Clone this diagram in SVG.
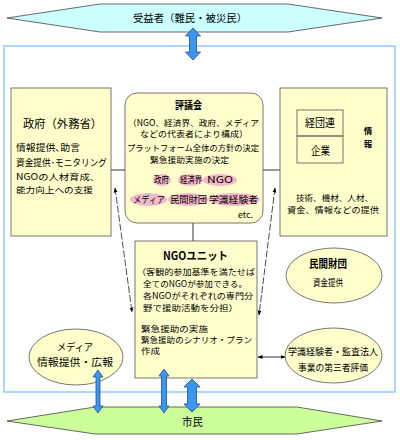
<svg xmlns="http://www.w3.org/2000/svg" width="400" height="440" viewBox="0 0 400 440">
<style>
text{font-family:"Noto Sans CJK JP","Noto Sans",sans-serif;fill:#000;font-size:9.5px}
.s{font-size:8.5px}
.c{text-anchor:middle}
.h{font-weight:bold;font-size:11px}
.box{fill:#ffffcc;stroke:#555;stroke-width:0.8}
.hex{stroke:#444;stroke-width:0.8}
.pk{fill:#f5b8c8}
.ln{fill:none;stroke:#000;stroke-width:0.8}
.dash{fill:none;stroke:#000;stroke-width:0.7;stroke-dasharray:7 2}
.ba{fill:#3a96f0;stroke:#1f4f8f;stroke-width:0.8}
</style>
<defs>
<marker id="ah" viewBox="0 0 10 10" refX="9" refY="5" markerWidth="5" markerHeight="5" orient="auto-start-reverse" markerUnits="userSpaceOnUse">
<path d="M0,1 L10,5 L0,9 Z" fill="#000"/>
</marker>
</defs>
<rect id="frame" x="4" y="46" width="391" height="346" fill="#fff" stroke="#99ccff" stroke-width="1.6"/>
<g id="beneficiary">
<polygon class="hex" points="7,18 100,4 288,4 382,18 288,32 100,32" fill="#ccffff"/>
<text x="190" y="22" textLength="114" lengthAdjust="spacingAndGlyphs" class="c" style="font-size:10px">受益者（難民・被災民）</text>
</g>
<g id="citizens">
<polygon class="hex" points="7,421 95,407 297,407 382,421 297,434 95,434" fill="#ccff99"/>
<text x="192.5" y="426" textLength="21" lengthAdjust="spacingAndGlyphs" class="c" style="font-size:11px">市民</text>
</g>
<g id="connectors">
<line class="ln" x1="111" y1="170" x2="125" y2="170"/>
<line class="ln" x1="263" y1="170" x2="280" y2="170"/>
<line class="ln" x1="193" y1="223" x2="193" y2="241"/>
<line class="dash" x1="115" y1="188" x2="132" y2="312" marker-start="url(#ah)" marker-end="url(#ah)"/>
<line class="dash" x1="275" y1="188" x2="259" y2="315" marker-start="url(#ah)" marker-end="url(#ah)"/>
<line class="ln" x1="258" y1="357" x2="285" y2="357" marker-start="url(#ah)" marker-end="url(#ah)"/>
<path class="ln" d="M343,122 H360 V149 H345" marker-end="url(#ah)"/>
</g>
<g id="gov">
<rect class="box" x="11" y="88" width="100" height="148"/>
<text x="23" y="127.5" textLength="79" lengthAdjust="spacingAndGlyphs" style="font-size:11.5px">政府（外務省）</text>
<text x="16" y="150.6" textLength="64" lengthAdjust="spacingAndGlyphs">情報提供､助言</text>
<text x="16" y="165.6" textLength="91" lengthAdjust="spacingAndGlyphs">資金提供･モニタリング</text>
<text x="16" y="180.3" textLength="84" lengthAdjust="spacingAndGlyphs" class="s">NGOの人材育成、</text>
<text x="16" y="193.3" textLength="77" lengthAdjust="spacingAndGlyphs" class="s">能力向上への支援</text>
</g>
<g id="council">
<rect class="box" x="125" y="93" width="138" height="130" rx="12" ry="12"/>
<text x="188.5" y="109" textLength="27" lengthAdjust="spacingAndGlyphs" class="c h" style="font-size:10.5px">評議会</text>
<text x="128" y="126.3" textLength="131" lengthAdjust="spacingAndGlyphs" class="s">（NGO、経済界、政府、メディア</text>
<text x="140" y="137.3" textLength="108" lengthAdjust="spacingAndGlyphs" class="s">などの代表者により構成）</text>
<text x="127" y="151.3" textLength="132" lengthAdjust="spacingAndGlyphs" class="s">プラットフォーム全体の方針の決定</text>
<text x="150" y="163.3" textLength="79" lengthAdjust="spacingAndGlyphs" class="s">緊急援助実施の決定</text>
<ellipse class="pk" cx="162" cy="180" rx="9" ry="6"/>
<ellipse class="pk" cx="190.5" cy="180" rx="12.5" ry="6"/>
<ellipse class="pk" cx="220" cy="180" rx="17" ry="6"/>
<ellipse class="pk" cx="148.5" cy="199.5" rx="18.5" ry="6.5"/>
<ellipse class="pk" cx="188" cy="199.5" rx="20" ry="6.5"/>
<ellipse class="pk" cx="234" cy="199.5" rx="26" ry="6.5"/>
<text x="154" y="182.6" textLength="15" lengthAdjust="spacingAndGlyphs">政府</text>
<text x="180" y="182.6" textLength="22" lengthAdjust="spacingAndGlyphs">経済界</text>
<text x="207" y="182.6" textLength="26" lengthAdjust="spacingAndGlyphs">NGO</text>
<text x="133" y="202.6" textLength="32" lengthAdjust="spacingAndGlyphs">メディア</text>
<text x="170" y="202.6" textLength="37" lengthAdjust="spacingAndGlyphs">民間財団</text>
<text x="209" y="202.6" textLength="49" lengthAdjust="spacingAndGlyphs">学識経験者</text>
<text x="238" y="218" textLength="15" lengthAdjust="spacingAndGlyphs" class="s">etc.</text>
</g>
<g id="business">
<rect class="box" x="280" y="88" width="107" height="148"/>
<rect x="297" y="110" width="46" height="26" fill="none" stroke="#555" stroke-width="0.8"/>
<rect x="297" y="136" width="46" height="27" fill="none" stroke="#555" stroke-width="0.8"/>
<text x="320" y="127.2" textLength="30" lengthAdjust="spacingAndGlyphs" class="c" style="font-size:11px">経団連</text>
<text x="320.5" y="155.2" textLength="19" lengthAdjust="spacingAndGlyphs" class="c" style="font-size:11px">企業</text>
<text x="368" y="133.6" class="c s" style="font-weight:bold">情</text>
<text x="368" y="146.6" class="c s" style="font-weight:bold">報</text>
<text x="334.5" y="201.3" textLength="77" lengthAdjust="spacingAndGlyphs" class="c s">技術、機材、人材、</text>
<text x="333" y="213.3" textLength="92" lengthAdjust="spacingAndGlyphs" class="c s">資金、情報などの提供</text>
</g>
<g id="ngo">
<rect class="box" x="135" y="241" width="122" height="137"/>
<text x="195.5" y="260.2" textLength="65" lengthAdjust="spacingAndGlyphs" class="c h">NGOユニット</text>
<text x="137" y="275.3" textLength="118" lengthAdjust="spacingAndGlyphs" class="s">（客観的参加基準を満たせば</text>
<text x="143" y="287.3" textLength="104" lengthAdjust="spacingAndGlyphs" class="s">全てのNGOが参加できる。</text>
<text x="143" y="299.3" textLength="110" lengthAdjust="spacingAndGlyphs" class="s">各NGOがそれぞれの専門分</text>
<text x="143" y="311.3" textLength="95" lengthAdjust="spacingAndGlyphs" class="s">野で援助活動を分担）</text>
<text x="141" y="332.3" textLength="67" lengthAdjust="spacingAndGlyphs" class="s">緊急援助の実施</text>
<text x="141" y="343.3" textLength="111" lengthAdjust="spacingAndGlyphs" class="s">緊急援助のシナリオ・プラン</text>
<text x="141" y="354.3" textLength="19" lengthAdjust="spacingAndGlyphs" class="s">作成</text>
</g>
<g id="media">
<ellipse class="box" cx="76" cy="357" rx="47" ry="28"/>
<text x="75" y="350.8" textLength="36" lengthAdjust="spacingAndGlyphs" class="c" style="font-size:10px">メディア</text>
<text x="75" y="365.8" textLength="76" lengthAdjust="spacingAndGlyphs" class="c" style="font-size:10px">情報提供・広報</text>
</g>
<g id="foundation">
<ellipse class="box" cx="334" cy="275.5" rx="48" ry="27.5"/>
<text x="328" y="268.2" textLength="38" lengthAdjust="spacingAndGlyphs" class="c h">民間財団</text>
<text x="328" y="285.6" textLength="30" lengthAdjust="spacingAndGlyphs" class="c">資金提供</text>
</g>
<g id="experts">
<ellipse class="box" cx="333.5" cy="355.5" rx="48.5" ry="27.5"/>
<text x="333" y="354.6" textLength="90" lengthAdjust="spacingAndGlyphs" class="c">学識経験者・監査法人</text>
<text x="333" y="370.6" textLength="70" lengthAdjust="spacingAndGlyphs" class="c">事業の第三者評価</text>
</g>
<g id="flows">
<path class="ba" d="M193,28 L200.5,36 L196.5,36 L196.5,52 L200.5,52 L193,60 L185.5,52 L189.5,52 L189.5,36 L185.5,36 Z"/>
<path class="ba" d="M98,370 L103,377 L100,377 L100,406 L103,406 L98,413 L93,406 L96,406 L96,377 L93,377 Z"/>
<path class="ba" d="M164,369 L169,376 L166.5,376 L166.5,406 L169,406 L164,413 L159,406 L161.5,406 L161.5,376 L159,376 Z"/>
<path class="ba" d="M192,379 L200,387 L196.5,387 L196.5,404 L200,404 L192,412 L184,404 L187.5,404 L187.5,387 L184,387 Z"/>
</g>
</svg>
